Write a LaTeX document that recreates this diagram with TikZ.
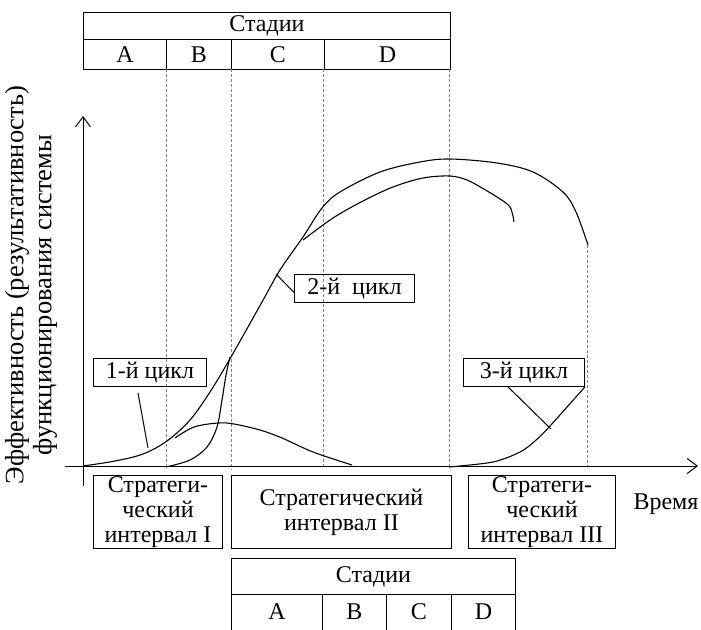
\documentclass[tikz,border=0pt]{standalone}
\usepackage{fontspec}
\setmainfont{Liberation Serif}
\usetikzlibrary{arrows.meta,calc}
\begin{document}
\begin{tikzpicture}[x=1pt,y=-1pt,
  every node/.style={font=\fontsize{24}{25}\selectfont},
  cell/.style={draw,line width=0.9pt,rectangle,inner sep=0pt,anchor=north west},
  lbox/.style={draw,line width=0.9pt,rectangle,inner sep=0pt,anchor=north west,align=center},
  curve/.style={line width=1.1pt,line join=round},
  guide/.style={gray,line width=0.5pt,dash pattern=on 3pt off 2pt},
  axis/.style={line width=1pt,-{Straight Barb[length=10pt,width=15pt,line width=1pt]}},
  ptr/.style={line width=1pt},
  ylab/.style={rotate=90,font=\fontsize{26.5}{28}\selectfont}]
\useasboundingbox (0,0) rectangle (701,629);

% top stages table
\node[cell,minimum width=367pt,minimum height=27pt] (tS) at (83,12) {Стадии};
\node[cell,minimum width=83pt,minimum height=30pt] (tA) at (83,39) {A};
\node[cell,minimum width=65pt,minimum height=30pt] (tB) at (166,39) {B};
\node[cell,minimum width=93pt,minimum height=30pt] (tC) at (231,39) {C};
\node[cell,minimum width=126pt,minimum height=30pt] (tD) at (324,39) {D};

% guides
\coordinate (g1t) at (166,69); \coordinate (g1b) at (166,466);
\coordinate (g2t) at (231,69); \coordinate (g2b) at (231,470);
\coordinate (g3t) at (323,69); \coordinate (g3b) at (323,466);
\coordinate (g4t) at (449,69); \coordinate (g4b) at (449,466);
\coordinate (g5t) at (587,245); \coordinate (g5b) at (587,466);
\draw[guide] (g1t) -- (g1b);
\draw[guide] (g2t) -- (g2b);
\draw[guide] (g3t) -- (g3b);
\draw[guide] (g4t) -- (g4b);
\draw[guide] (g5t) -- (g5b);

% axes
\coordinate (yb) at (83,486); \coordinate (yt) at (83,116);
\coordinate (xl) at (65,466); \coordinate (xr) at (698,466);
\draw[axis] (yb) -- (yt);
\draw[axis] (xl) -- (xr);

% axis labels
\node[ylab] (ylab1) at (17,285) {Эффективность (результативность)};
\node[ylab] (ylab2) at (45,295) {функционирования системы};
\node (xlab) at (666,504) {Время};

% curves
\draw[curve] plot[smooth,tension=0.55] coordinates {(83,466) (115,461) (143,454) (167,441) (190,420) (210,392) (231,357) (262,302) (280,270) (303,237) (322,208) (340,192) (380,172) (420,162) (450,159) (497,163) (533,172) (563,192) (576,212) (588,245)};
\draw[curve] plot[smooth,tension=0.55] coordinates {(166,467) (190,460) (207,447) (217,427) (222,400) (226,375) (230,357)};
\draw[curve] plot[smooth,tension=0.55] coordinates {(175,438) (194,427) (218,423) (234,424) (260,430) (282,438) (313,452) (352,465)};
\draw[curve] plot[smooth,tension=0.55] coordinates {(303,240) (333,218) (363,201) (393,187) (423,178) (450,176) (467,180) (482,188) (497,197) (510,207) (514,222)};

% cycle labels
\node[lbox,minimum width=113pt,minimum height=28pt] (lab1) at (93,358) {1-й цикл};
\node[lbox,minimum width=120pt,minimum height=28pt] (lab2) at (294,274) {2-й\ \ цикл};
\node[lbox,minimum width=121pt,minimum height=28pt] (lab3) at (463,358) {3-й цикл};

\draw[curve] plot[smooth,tension=0.5] coordinates {(449,467) (493,462) (520,452) (535,441) (550,426) (lab3.south east)};

% pointers
\coordinate (p1a) at (138,393); \coordinate (p1b) at (148,448);
\draw[ptr] (p1a) -- (p1b);
\coordinate (p2) at (276,274);
\draw[ptr] (p2) -- ($(lab2.west)+(0,4)$);
\coordinate (p3) at (551,429);
\draw[ptr] ($(lab3.south west)+(45,0)$) -- (p3);

% strategic intervals
\node[lbox,minimum width=129pt,minimum height=73pt] (int1) at (93,475) {Стратеги-\\ческий\\интервал I};
\node[lbox,minimum width=220pt,minimum height=73pt] (int2) at (231,475) {Стратегический\\интервал II};
\node[lbox,minimum width=147pt,minimum height=73pt] (int3) at (468,475) {Стратеги-\\ческий\\интервал III};

% bottom stages table
\node[cell,minimum width=284pt,minimum height=36pt] (bS) at (231,558) {Стадии};
\node[cell,minimum width=91pt,minimum height=44pt,text depth=10pt] (bA) at (231,594) {A};
\node[cell,minimum width=64pt,minimum height=44pt,text depth=10pt] (bB) at (322,594) {B};
\node[cell,minimum width=65pt,minimum height=44pt,text depth=10pt] (bC) at (386,594) {C};
\node[cell,minimum width=64pt,minimum height=44pt,text depth=10pt] (bD) at (451,594) {D};
\end{tikzpicture}
\end{document}
